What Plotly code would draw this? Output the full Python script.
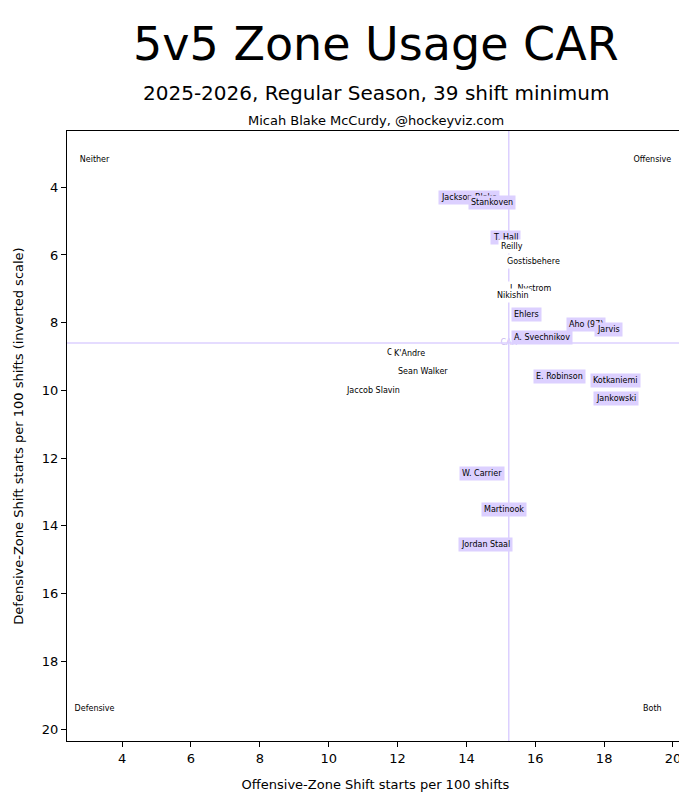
import plotly.graph_objects as go

# player zone usage
names = ["Jackson Blake", "Stankoven", "T. Hall", "Reilly", "Gostisbehere", "J. Nystrom",
         "Nikishin", "Ehlers", "Aho (97)", "Jarvis", "A. Svechnikov", "Chatfield", "K'Andre",
         "Sean Walker", "Jaccob Slavin", "E. Robinson", "Kotkaniemi", "Jankowski",
         "W. Carrier", "Martinook", "Jordan Staal"]
oz = [14.07, 14.73, 15.14, 15.32, 15.96, 15.84, 15.35, 15.75, 17.47, 18.14, 16.19, 12.23, 12.35,
      12.73, 11.30, 16.71, 18.34, 18.34, 14.44, 15.08, 14.56]
dz = [4.29, 4.44, 5.49, 5.75, 6.19, 6.98, 7.21, 7.77, 8.06, 8.20, 8.44, 8.88, 8.90,
      9.43, 9.99, 9.58, 9.72, 10.25, 12.44, 13.52, 14.54]
highlight = [True, True, True, False, False, False, False, True, True, True, True, False, False,
             False, False, True, True, True, True, True, True]
team_oz, team_dz = 15.23, 8.6

corners = ["Neither", "Offensive", "Defensive", "Both"]
corner_x = [3.2, 19.4, 3.2, 19.4]
corner_y = [3.2, 3.2, 19.4, 19.4]

lav = "#dcd0ff"
fig = go.Figure()
fig.add_vline(x=team_oz, line_color=lav, line_width=1.5)
fig.add_hline(y=team_dz, line_color=lav, line_width=1.5)

fig.add_trace(go.Scatter(x=[team_oz], y=[team_dz], mode="text", text=["CAR"],
                         textfont=dict(size=8, color="#c8b8f0"), hoverinfo="skip"))
for n, x, y, h in zip(names, oz, dz, highlight):
    fig.add_annotation(x=x, y=y, text=n, showarrow=False, font=dict(size=8, color="black"),
                       bgcolor=lav if h else "white", borderpad=2)
fig.add_trace(go.Scatter(x=corner_x, y=corner_y, mode="text", text=corners,
                         textfont=dict(size=8, color="black"), hoverinfo="skip"))

fig.add_annotation(text="5v5 Zone Usage CAR", x=0.5, y=1.0, xref="paper", yref="paper",
                   yanchor="bottom", showarrow=False, font=dict(size=46, color="black"), yshift=58)
fig.add_annotation(text="2025-2026, Regular Season, 39 shift minimum", x=0.5, y=1.0, xref="paper",
                   yref="paper", yanchor="bottom", showarrow=False,
                   font=dict(size=20, color="black"), yshift=24)
fig.add_annotation(text="Micah Blake McCurdy, @hockeyviz.com", x=0.5, y=1.0, xref="paper",
                   yref="paper", yanchor="bottom", showarrow=False,
                   font=dict(size=13, color="black"), yshift=1)

axis = dict(showgrid=False, zeroline=False, showline=True, linecolor="black", mirror=True,
            ticks="outside", tickcolor="black", tickfont=dict(size=13), dtick=2)
fig.update_xaxes(axis, range=[2.4, 20.32],
                 title=dict(text="Offensive-Zone Shift starts per 100 shifts", font=dict(size=13)))
fig.update_yaxes(axis, range=[20.35, 2.34],
                 title=dict(text="Defensive-Zone Shift starts per 100 shifts (inverted scale)",
                            font=dict(size=13)))
fig.update_layout(width=687, height=792, showlegend=False, plot_bgcolor="white",
                  paper_bgcolor="white", margin=dict(l=57, r=10, t=123, b=51),
                  font=dict(family="DejaVu Sans", color="black"))
fig.write_html("out.html")
